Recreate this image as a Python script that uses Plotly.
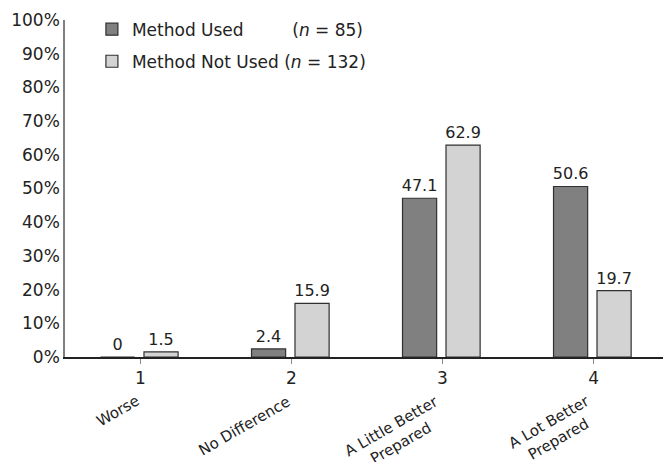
import plotly.graph_objects as go

categories = [1, 2, 3, 4]
tick_labels = ["1", "2", "3", "4"]
category_names = ["Worse", "No Difference", "A Little Better<br>Prepared", "A Lot Better<br>Prepared"]
method_used = [0, 2.4, 47.1, 50.6]
method_not_used = [1.5, 15.9, 62.9, 19.7]
series_names = ["Method Used" + "\u00a0" * 9 + "(<i>n</i> = 85)",
                "Method Not Used (<i>n</i> = 132)"]

FONT = "DejaVu Sans"
fig = go.Figure()
fig.add_trace(go.Bar(
    x=categories, y=method_used, name=series_names[0], legendgroup="a",
    width=0.226, offset=-0.265,
    marker=dict(color="#808080", line=dict(color="#303030", width=1.2)),
    text=[str(v) for v in method_used], texttemplate="%{text}",
    textposition="outside", cliponaxis=False, constraintext="none",
    textfont=dict(family=FONT, size=16, color="#222222"),
))
fig.add_trace(go.Bar(
    x=categories, y=method_not_used, name=series_names[1], legendgroup="b",
    width=0.226, offset=0.023,
    marker=dict(color="#d3d3d3", line=dict(color="#303030", width=1.2)),
    text=[str(v) for v in method_not_used], texttemplate="%{text}",
    textposition="outside", cliponaxis=False, constraintext="none",
    textfont=dict(family=FONT, size=16, color="#222222"),
))

for c, name in zip(categories, category_names):
    dx = 0.075 if "<br>" in name else 0.03
    fig.add_annotation(x=c + dx, y=-0.096, xref="x", yref="paper",
                       text=name, textangle=-30, showarrow=False,
                       xanchor="right", yanchor="top", align="center",
                       font=dict(family=FONT, size=15, color="#222222"))

fig.update_layout(
    width=663, height=462,
    margin=dict(l=65, r=0, t=20, b=105, autoexpand=False),
    paper_bgcolor="white", plot_bgcolor="white",
    font=dict(family=FONT, size=17, color="#222222"),
    showlegend=True,
    legend=dict(x=0.045, y=1.025, xanchor="left", yanchor="top",
                bgcolor="rgba(0,0,0,0)", tracegroupgap=7,
                traceorder="grouped",
                font=dict(family=FONT, size=17, color="#222222")),
    xaxis=dict(range=[0.5, 4.46], tickvals=categories, ticktext=tick_labels,
               showline=True, linecolor="#222222", linewidth=1.5,
               ticks="outside", ticklen=5, tickcolor="#888888", tickwidth=1,
               showgrid=False, zeroline=False, automargin=False,
               tickfont=dict(family=FONT, size=17, color="#222222")),
    yaxis=dict(range=[0, 100], dtick=10, ticksuffix="%",
               showline=True, linecolor="#808080", linewidth=1.5,
               ticks="", showgrid=False, zeroline=False, automargin=False,
               tickfont=dict(family=FONT, size=17, color="#222222")),
)

fig.write_html("out.html", config={"displayModeBar": False},
               post_script="document.body.style.margin='0px';document.body.style.overflow='hidden';")
